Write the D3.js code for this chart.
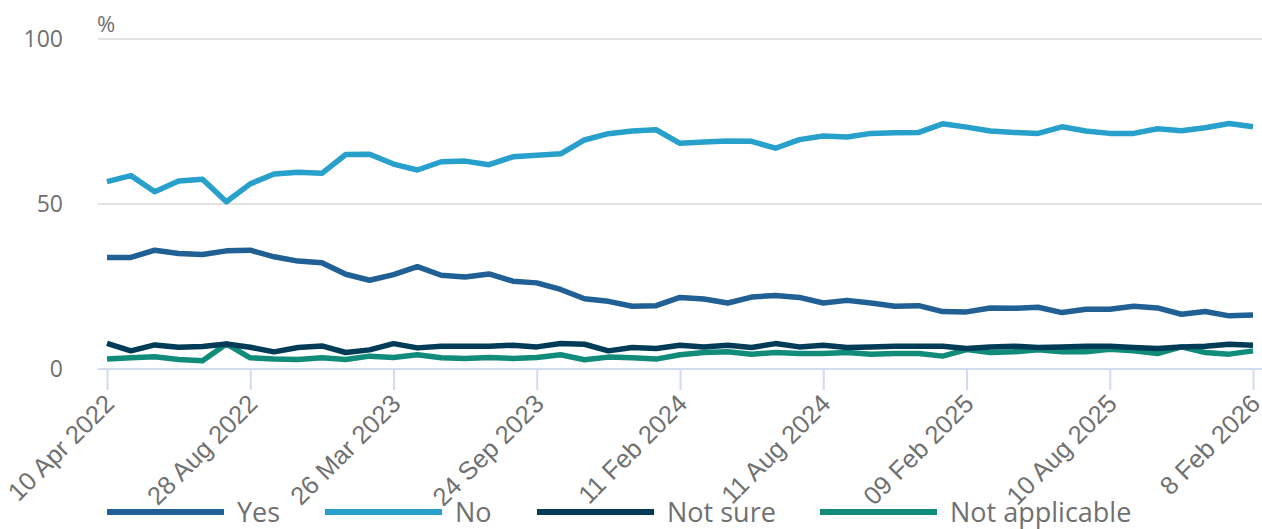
<!DOCTYPE html>
<html>
<head>
<meta charset="utf-8">
<script src="https://cdn.jsdelivr.net/npm/d3@7"></script>
<style>
	body { margin: 0; background: #ffffff; }
	svg { font-family: "Open Sans", sans-serif; display: block; }
</style>
</head>
<body>
<div id="chart"></div>
<script>
// survey wave dates (only every sixth one is labelled on the axis)
const dates = [
	"10 Apr 2022", "1 May 2022", "22 May 2022", "12 Jun 2022", "3 Jul 2022", "31 Jul 2022",
	"28 Aug 2022", "2 Oct 2022", "6 Nov 2022", "11 Dec 2022", "15 Jan 2023", "19 Feb 2023",
	"26 Mar 2023", "23 Apr 2023", "28 May 2023", "25 Jun 2023", "30 Jul 2023", "27 Aug 2023",
	"24 Sep 2023", "15 Oct 2023", "5 Nov 2023", "26 Nov 2023", "17 Dec 2023", "14 Jan 2024",
	"11 Feb 2024", "10 Mar 2024", "14 Apr 2024", "12 May 2024", "9 Jun 2024", "14 Jul 2024",
	"11 Aug 2024", "8 Sep 2024", "13 Oct 2024", "10 Nov 2024", "8 Dec 2024", "12 Jan 2025",
	"09 Feb 2025", "9 Mar 2025", "13 Apr 2025", "11 May 2025", "8 Jun 2025", "13 Jul 2025",
	"10 Aug 2025", "7 Sep 2025", "12 Oct 2025", "9 Nov 2025", "7 Dec 2025", "11 Jan 2026",
	"8 Feb 2026"
];

const tickLabels = ["10 Apr 2022", "28 Aug 2022", "26 Mar 2023", "24 Sep 2023", "11 Feb 2024",
	"11 Aug 2024", "09 Feb 2025", "10 Aug 2025", "8 Feb 2026"];

const yTicks = [0, 50, 100];

const seriesNames = ["Yes", "No", "Not sure", "Not applicable"];
const seriesColors = ["#206095", "#27a0cc", "#003c57", "#118c7b"];

const yes = [33.8, 33.8, 36.0, 35.0, 34.7, 35.8, 36.0, 34.0, 32.7, 32.2, 28.7, 26.9,
	28.6, 31.0, 28.4, 27.9, 28.8, 26.6, 26.1, 24.1, 21.3, 20.5, 19.0, 19.2,
	21.7, 21.2, 20.0, 21.8, 22.3, 21.7, 20.0, 20.8, 20.0, 19.0, 19.2, 17.4,
	17.3, 18.5, 18.4, 18.7, 17.1, 18.1, 18.1, 19.0, 18.5, 16.6, 17.4, 16.1, 16.4];

const no = [56.8, 58.6, 53.7, 57.0, 57.5, 50.7, 56.1, 59.1, 59.6, 59.3, 65.0, 65.1,
	62.1, 60.3, 62.8, 63.0, 61.9, 64.3, 64.8, 65.2, 69.4, 71.3, 72.1, 72.5,
	68.4, 68.8, 69.1, 69.0, 66.9, 69.5, 70.6, 70.3, 71.4, 71.6, 71.7, 74.3,
	73.3, 72.1, 71.7, 71.4, 73.4, 72.1, 71.4, 71.4, 72.8, 72.2, 73.1, 74.4, 73.4];

const notSure = [7.8, 5.5, 7.3, 6.6, 6.8, 7.6, 6.6, 5.2, 6.5, 7.0, 5.0, 5.8,
	7.7, 6.4, 6.9, 6.9, 6.9, 7.2, 6.7, 7.7, 7.5, 5.5, 6.5, 6.2,
	7.2, 6.7, 7.2, 6.5, 7.7, 6.7, 7.2, 6.5, 6.7, 6.9, 6.9, 6.9,
	6.2, 6.7, 6.9, 6.5, 6.7, 6.9, 6.9, 6.5, 6.2, 6.7, 6.9, 7.5, 7.2];

const notApplicable = [3.0, 3.4, 3.7, 2.9, 2.5, 7.6, 3.4, 3.0, 2.9, 3.4, 2.9, 3.9,
	3.5, 4.3, 3.4, 3.2, 3.5, 3.2, 3.5, 4.3, 2.8, 3.6, 3.4, 3.0,
	4.3, 5.0, 5.2, 4.5, 5.0, 4.7, 4.7, 5.0, 4.5, 4.7, 4.7, 3.9,
	5.9, 5.0, 5.2, 5.8, 5.2, 5.2, 6.0, 5.5, 4.7, 6.7, 5.0, 4.5, 5.5];

const seriesValues = [yes, no, notSure, notApplicable];

/**
 * draws the whole line chart into #chart
 */
function drawChart() {
	const w = 1262;
	const h = 529;
	const margin = {top: 39, right: 9, bottom: 160, left: 107};
	const textColor = "#707070";

	const svg = d3.select("#chart")
		.append("svg")
		.attr("width", w)
		.attr("height", h);

	// X SCALE (one point per survey wave)
	const x = d3.scalePoint()
		.domain(dates)
		.range([margin.left, w - margin.right]);

	// Y SCALE
	const y = d3.scaleLinear()
		.domain([0, 100])
		.range([h - margin.bottom, margin.top]);

	// horizontal grid lines (the zero line is drawn with the x axis)
	svg.append("g")
		.selectAll("line")
		.data(yTicks.filter(function(t) { return t > 0; }))
		.enter()
		.append("line")
		.attr("x1", 98)
		.attr("x2", w)
		.attr("y1", function(d) { return y(d); })
		.attr("y2", function(d) { return y(d); })
		.attr("stroke", "#e2e2e2")
		.attr("stroke-width", 2);

	// Y AXIS LABELS
	svg.append("g")
		.selectAll("text")
		.data(yTicks)
		.enter()
		.append("text")
		.attr("x", 63)
		.attr("y", function(d) { return y(d); })
		.attr("dy", "0.36em")
		.attr("text-anchor", "end")
		.attr("fill", textColor)
		.style("font-size", "23px")
		.text(function(d) { return d; });

	// unit label
	svg.append("text")
		.attr("x", 97)
		.attr("y", 32)
		.attr("fill", textColor)
		.style("font-size", "22px")
		.text("%");

	// X AXIS
	const xAxis = svg.append("g")
		.attr("transform", `translate(0, ${y(0)})`)
		.call(d3.axisBottom(x).tickValues(tickLabels).tickSize(21).tickPadding(6));

	xAxis.select(".domain")
		.attr("d", `M98,0H${w}`)
		.attr("stroke", "#d3dbee")
		.attr("stroke-width", 2);

	xAxis.selectAll(".tick line")
		.attr("stroke", "#d3dbee")
		.attr("stroke-width", 2);

	// rotated date labels, end of the text sits just under the tick
	xAxis.selectAll(".tick text")
		.attr("fill", textColor)
		.style("font-size", "25.5px")
		.attr("text-anchor", "end")
		.attr("dy", "0.35em")
		.attr("transform", "translate(2, 30) rotate(-45)")
		.attr("y", 0)
		.attr("x", 0);

	// LINES
	const line = d3.line()
		.x(function(d, i) { return x(dates[i]); })
		.y(function(d) { return y(d); });

	// draw order: lower series first so that they sit under the others
	const order = [3, 2, 0, 1];
	order.forEach(function(k) {
		svg.append("path")
			.datum(seriesValues[k])
			.attr("fill", "none")
			.attr("stroke", seriesColors[k])
			.attr("stroke-width", 5.5)
			.attr("stroke-linejoin", "round")
			.attr("d", line);
	});

	// LEGEND
	const legendX = [107, 325, 537, 820];
	const legend = svg.append("g")
		.attr("transform", "translate(0, 512)");

	seriesNames.forEach(function(name, i) {
		legend.append("rect")
			.attr("x", legendX[i])
			.attr("y", -3)
			.attr("width", 117)
			.attr("height", 6)
			.attr("fill", seriesColors[i]);
		legend.append("text")
			.attr("x", legendX[i] + 130)
			.attr("y", 0)
			.attr("dy", "0.36em")
			.attr("fill", textColor)
			.style("font-size", "27px")
			.text(name);
	});
}

drawChart();
</script>
</body>
</html>
